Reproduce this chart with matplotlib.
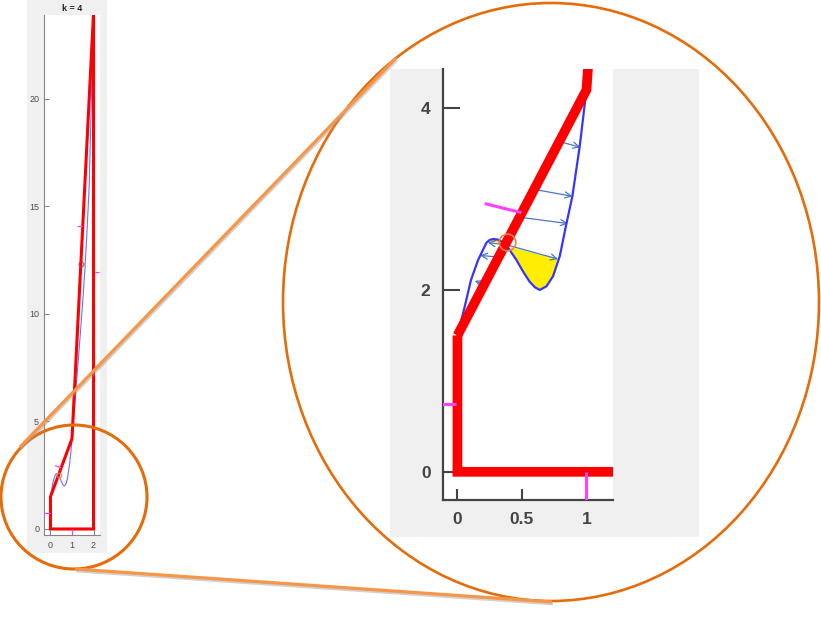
import matplotlib
matplotlib.use("Agg")
import matplotlib.pyplot as plt
from matplotlib.patches import Ellipse, Rectangle

# ---------------- data ----------------
title_text = "k = 4"

# red closed path
red_x = [0, 0, 2, 2, 1, 0]
red_y = [1.5, 0, 0, 24.0, 4.2, 1.5]

# blue curve
blue_x = [0, 0.057, 0.105, 0.16, 0.225, 0.25, 0.276, 0.31, 0.345, 0.37, 0.40, 0.457,
          0.51, 0.56, 0.60, 0.638, 0.69, 0.741, 0.793, 0.845, 0.891, 0.948, 1.0,
          1.1, 1.2, 1.3, 1.4, 1.5, 1.6, 1.7, 1.8, 1.9, 2.0]
blue_y = [1.5, 1.82, 2.11, 2.33, 2.52, 2.55, 2.56, 2.555, 2.53, 2.50, 2.45, 2.33,
          2.2, 2.09, 2.03, 2.0, 2.04, 2.15, 2.37, 2.73, 3.03, 3.58, 4.2,
          5.45, 6.7, 7.95, 9.25, 10.6, 12.1, 13.9, 16.0, 20.0, 24.0]

# yellow regions
yel1_x = [0.41, 0.457, 0.51, 0.56, 0.60, 0.638, 0.69, 0.741, 0.775]
yel1_y = [2.47, 2.33, 2.2, 2.09, 2.03, 2.0, 2.04, 2.15, 2.34]
yel2_x = [0.245, 0.276, 0.31, 0.345]
yel2_y = [2.52, 2.56, 2.555, 2.52]

# arrows: start (on red) -> end (on blue)
arr_x0 = [0.793, 0.599, 0.483, 0.37, 0.33, 0.36, 0.21]
arr_y0 = [3.63, 3.105, 2.80, 2.50, 2.36, 2.50, 2.06]
arr_x1 = [0.953, 0.891, 0.857, 0.78, 0.175, 0.235, 0.134]
arr_y1 = [3.57, 3.03, 2.73, 2.34, 2.38, 2.52, 2.10]

# magenta segments
mag_x0 = [-0.3, 0.211, 1.23, 2.08, 1.0]
mag_y0 = [0.745, 2.95, 14.1, 11.95, 0.0]
mag_x1 = [-0.01, 0.496, 1.46, 2.26, 1.0]
mag_y1 = [0.745, 2.85, 14.1, 11.95, -0.5]

# circle markers
circ_orange = (0.385, 2.53)
circ_brown = (1.43, 12.3)

main_xticks = [0, 1, 2]
main_yticks = [0, 5, 10, 15, 20]
zoom_xticks = [0, 0.5, 1]
zoom_xlabels = ["0", "0.5", "1"]
zoom_yticks = [0, 2, 4]

# ---------------- figure ----------------
W, H = 821, 618
fig = plt.figure(figsize=(W / 100, H / 100), dpi=100)
fig.patch.set_facecolor("white")


def pos(x0, y0, x1, y1):
    return [x0 / W, 1 - y1 / H, (x1 - x0) / W, (y1 - y0) / H]


bg = fig.add_axes([0, 0, 1, 1], zorder=-5)
bg.set_xlim(0, W)
bg.set_ylim(H, 0)
bg.axis("off")
bg.add_patch(Rectangle((27, 0), 80, 553, color="#f0f0f0", lw=0))
bg.add_patch(Rectangle((390, 69), 309, 468, color="#f0f0f0", lw=0))

FONT = "Liberation Sans"


def draw_content(ax, red_lw, blue_lw, blue_col, mag_lw, circ_ms, small):
    if not small:
        ax.fill(yel1_x, yel1_y, color="#ffee00", lw=0, zorder=2)
        ax.fill(yel2_x, yel2_y, color="#ffee00", lw=0, zorder=2)
        for x0, y0, x1, y1 in zip(arr_x0, arr_y0, arr_x1, arr_y1):
            ax.annotate("", xy=(x1, y1), xytext=(x0, y0),
                        arrowprops=dict(arrowstyle="->", color="#4a78c8", lw=0.9,
                                        mutation_scale=11, shrinkA=0, shrinkB=0),
                        zorder=3, annotation_clip=True)
    ax.plot(blue_x, blue_y, color=blue_col, lw=blue_lw, zorder=4)
    ax.fill(red_x, red_y, fill=False, edgecolor="#ff0000", lw=red_lw,
            joinstyle="miter", zorder=5)
    for x0, y0, x1, y1 in zip(mag_x0, mag_y0, mag_x1, mag_y1):
        ax.plot([x0, x1], [y0, y1], color="#ff40ff", lw=mag_lw, zorder=6,
                solid_capstyle="butt")
    ax.plot([circ_orange[0]], [circ_orange[1]], "o", mfc="none",
            mec="#e8834a", ms=circ_ms, mew=1.2 if not small else 0.7, zorder=7)
    if small:
        ax.plot([circ_brown[0]], [circ_brown[1]], "o", mfc="none",
                mec="#b23a3a", ms=3.5, mew=0.7, zorder=7)


# ---------- main (small) axes ----------
ax1 = fig.add_axes(pos(44, 15, 100, 535), zorder=1)
ax1.set_facecolor("white")
ax1.set_xlim(-0.3, 2.3)
ax1.set_ylim(-0.28, 23.9)
draw_content(ax1, red_lw=2.2, blue_lw=0.8, blue_col="#6f6fff", mag_lw=0.9,
             circ_ms=3.5, small=True)
for s in ["top", "right"]:
    ax1.spines[s].set_visible(False)
for s in ["left", "bottom"]:
    ax1.spines[s].set_color("#858585")
    ax1.spines[s].set_linewidth(0.8)
ax1.set_xticks(main_xticks)
ax1.set_yticks(main_yticks)
ax1.set_xticklabels([str(v) for v in main_xticks], fontname=FONT)
ax1.set_yticklabels([str(v) for v in main_yticks], fontname=FONT)
ax1.tick_params(direction="in", length=3.5, width=0.7, color="#808080",
                labelsize=6.5, labelcolor="#4d4d4d")
ax1.tick_params(axis="x", pad=4)
ax1.tick_params(axis="y", pad=3.5)
ax1.set_title(title_text, fontsize=6.5, fontweight="bold", pad=3, fontname=FONT,
              color="#222222")

# ---------- zoomed axes ----------
ax2 = fig.add_axes(pos(443, 69, 613, 500), zorder=1)
ax2.set_facecolor("white")
ax2.set_xlim(-0.112, 1.206)
ax2.set_ylim(-0.31, 4.43)
draw_content(ax2, red_lw=7.0, blue_lw=1.6, blue_col="#3535ff", mag_lw=2.2,
             circ_ms=12, small=False)
for s in ["top", "right"]:
    ax2.spines[s].set_visible(False)
for s in ["left", "bottom"]:
    ax2.spines[s].set_color("#444444")
    ax2.spines[s].set_linewidth(1.6)
ax2.set_xticks(zoom_xticks)
ax2.set_xticklabels(zoom_xlabels, fontname=FONT, fontweight="bold")
ax2.set_yticks(zoom_yticks)
ax2.set_yticklabels([str(v) for v in zoom_yticks], fontname=FONT, fontweight="bold")
ax2.tick_params(direction="in", width=1.5, color="#444444", labelsize=12.5,
                labelcolor="#444444")
ax2.tick_params(axis="y", length=12, pad=9)
ax2.tick_params(axis="x", length=8, pad=9)

# ---------- overlay: ellipses and connectors ----------
ov = fig.add_axes([0, 0, 1, 1], zorder=10)
ov.set_xlim(0, W)
ov.set_ylim(H, 0)
ov.axis("off")
ov.patch.set_alpha(0)

line_col = "#f79646"
shadow = "#9a9a9a"
conn = [((20, 447), (396, 58)), ((75, 569), (552, 602))]
for (xa, ya), (xb, yb) in conn:
    ov.plot([xa + 1, xb + 1], [ya + 2, yb + 2], color=shadow, lw=2.0, alpha=0.45,
            solid_capstyle="butt")
    ov.plot([xa, xb], [ya, yb], color=line_col, lw=2.3, solid_capstyle="butt")

ov.add_patch(Ellipse((551, 302), 536, 598, fill=False, edgecolor="#e46c0a", lw=1.9))
ov.add_patch(Ellipse((74, 497), 146, 144, fill=False, edgecolor="#e46c0a", lw=2.2))

fig.savefig("out.png", dpi=100)
